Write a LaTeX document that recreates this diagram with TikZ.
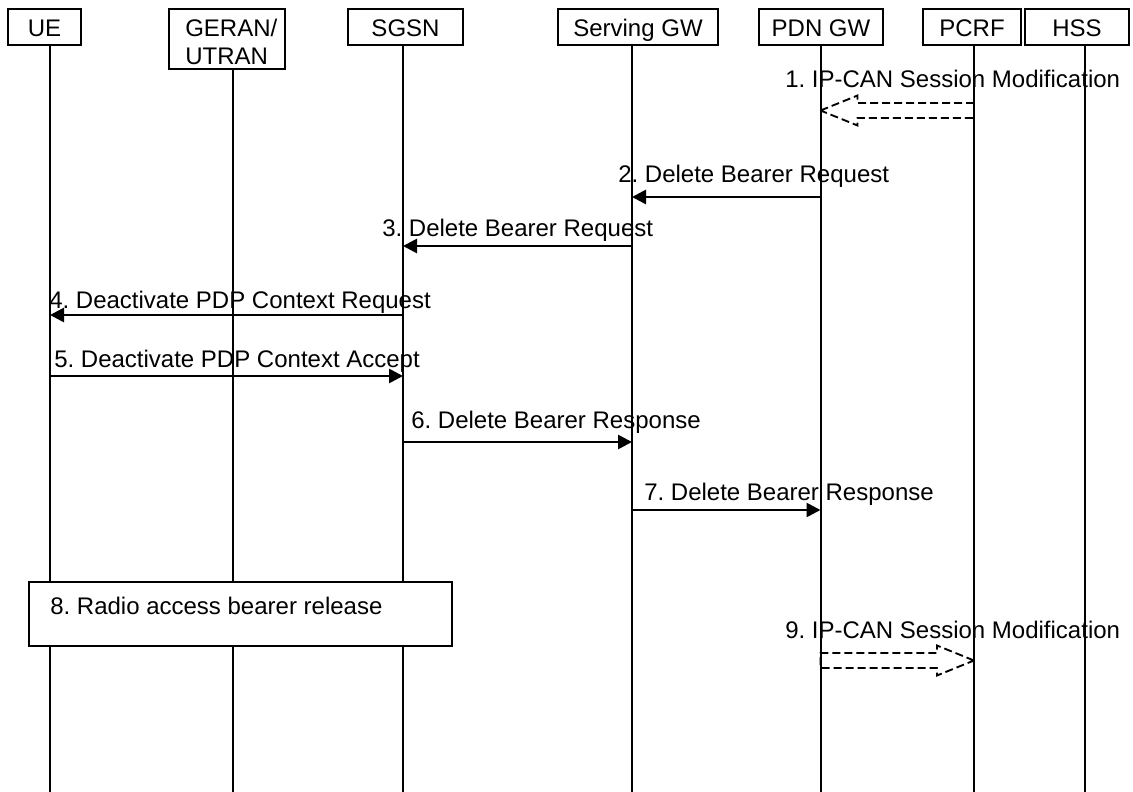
\documentclass[tikz,border=0pt]{standalone}
\usepackage{fontspec}
\setmainfont{Liberation Sans}
\usetikzlibrary{arrows.meta,calc}
\frenchspacing
\begin{document}
\begin{tikzpicture}[x=0.75pt,y=-0.75pt,
  font=\fontsize{18}{21}\selectfont,
  hdr/.style={draw,line width=1pt,inner sep=0pt,minimum height=27pt,text height=15pt,text depth=0pt},
  life/.style={line width=1.5pt},
  msg/.style={line width=2pt,-{Triangle[length=10.5pt,width=10.5pt]}},
  fat/.style={line width=1.4pt,dash pattern=on 6pt off 3pt},
  lbl/.style={inner sep=0pt,anchor=base west}]
\useasboundingbox (0,0) rectangle (1133,792);
% header boxes
\node[hdr,minimum width=54.75pt] (ue) at (44.5,27) {UE};
\node[draw,line width=1pt,inner sep=0pt,minimum width=87pt,minimum height=45pt] (geran) at (227,39) {};
\node[lbl] (gerantxt) at (185,37) {\begin{tabular}[t]{@{}l@{}}GERAN/\\UTRAN\end{tabular}};
\node[hdr,minimum width=86.25pt] (sgsn) at (405.5,27) {SGSN};
\node[hdr,minimum width=120pt] (sgw) at (638,27) {Serving GW};
\node[hdr,minimum width=93pt] (pdn) at (821,27) {PDN GW};
\node[hdr,minimum width=73.5pt] (pcrf) at (972,27) {PCRF};
\node[hdr,minimum width=78pt] (hss) at (1077,27) {HSS};
% lifeline ends
\coordinate (ueT) at (50,45);     \coordinate (ueB) at (50,792);
\coordinate (geT) at (233,69);    \coordinate (geB) at (233,792);
\coordinate (sgT) at (403,45);    \coordinate (sgB) at (403,792);
\coordinate (swT) at (632,45);    \coordinate (swB) at (632,792);
\coordinate (pdT) at (820.5,45);  \coordinate (pdB) at (820.5,792);
\coordinate (pcT) at (974,45);    \coordinate (pcB) at (974,792);
\coordinate (hsT) at (1085,45);   \coordinate (hsB) at (1085,792);
\foreach \n in {ue,ge,sg,sw,pd,pc,hs} {\draw[life] (\n T) -- (\n B);}
% message levels
\coordinate (m1) at (0,110.5);
\coordinate (m2) at (0,197);
\coordinate (m3) at (0,246);
\coordinate (m4) at (0,315);
\coordinate (m5) at (0,376);
\coordinate (m6) at (0,442);
\coordinate (m7) at (0,510);
\coordinate (m9) at (0,660.5);
% 1
\node[lbl] (t1) at (785,87.5) {1. IP-CAN Session Modification};
\draw[fat] (pdT |- m1) -- ++(37,-15) -- ++(0,7.5) -- ($(pcT |- m1)+(0,-7.5)$)
  -- ($(pcT |- m1)+(0,7.5)$) -- ($(pdT |- m1)+(37,7.5)$) -- ++(0,7.5) -- cycle;
% 2
\node[lbl] (t2) at (618,182) {2. Delete Bearer Request};
\draw[msg] (pdT |- m2) -- (swT |- m2);
% 3
\node[lbl] (t3) at (382,236) {3. Delete Bearer Request};
\draw[msg] (swT |- m3) -- (sgT |- m3);
% 4
\node[lbl] (t4) at (49,308) {4. Deactivate PDP Context Request};
\draw[msg] (sgT |- m4) -- (ueT |- m4);
% 5
\node[lbl] (t5) at (54,367) {5. Deactivate PDP Context Accept};
\draw[msg] (ueT |- m5) -- (sgT |- m5);
% 6
\node[lbl] (t6) at (411,428.5) {6. Delete Bearer Response};
\draw[msg] (sgT |- m6) -- (swT |- m6);
% 7
\node[lbl] (t7) at (644,500.5) {7. Delete Bearer Response};
\draw[msg] (swT |- m7) -- (pdT |- m7);
% 8
\node[draw,line width=1pt,fill=white,inner sep=0pt,minimum width=317.25pt,minimum height=48pt] (rab) at (240.5,614) {};
\node[lbl] (t8) at (50,614) {8. Radio access bearer release};
% 9
\node[lbl] (t9) at (785,638) {9. IP-CAN Session Modification};
\draw[fat] (pcT |- m9) -- ++(-37,-15) -- ++(0,7.5) -- ($(pdT |- m9)+(0,-7.5)$)
  -- ($(pdT |- m9)+(0,7.5)$) -- ($(pcT |- m9)+(-37,7.5)$) -- ++(0,7.5) -- cycle;
\end{tikzpicture}
\end{document}
